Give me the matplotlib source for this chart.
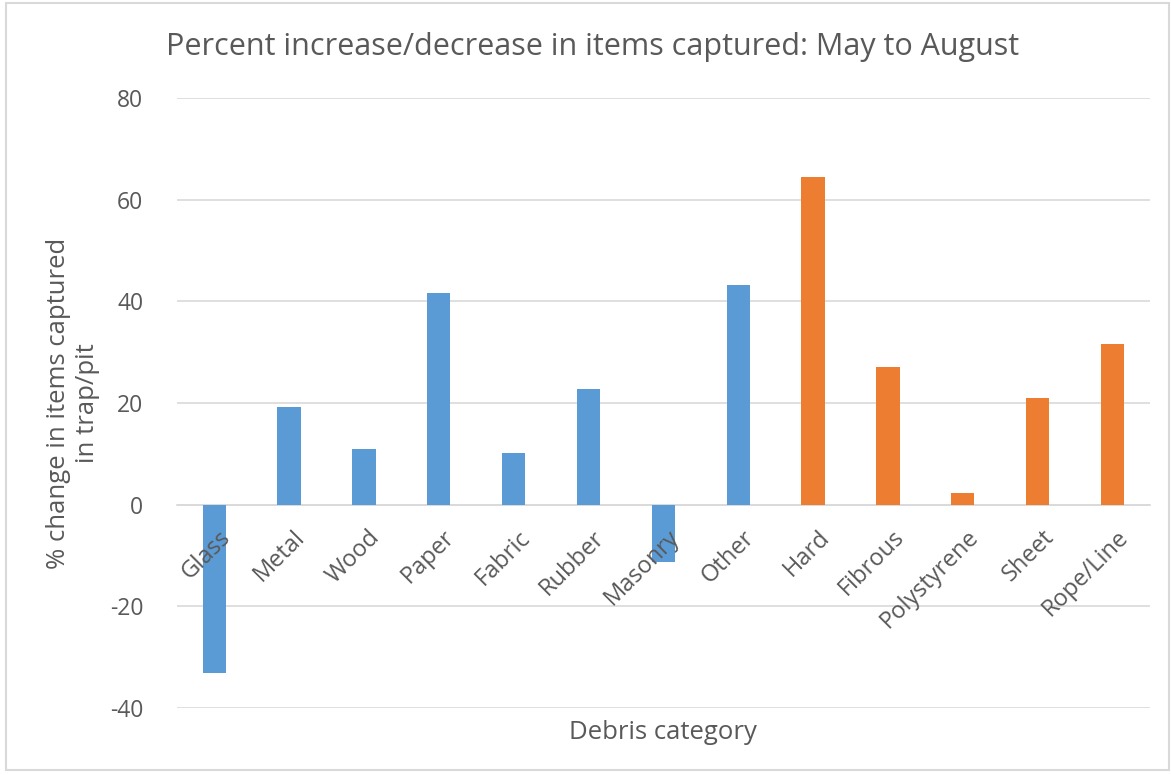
import matplotlib.pyplot as plt
from matplotlib.patches import Rectangle
from matplotlib.transforms import offset_copy

# data
categories = ['Glass', 'Metal', 'Wood', 'Paper', 'Fabric', 'Rubber', 'Masonry', 'Other',
              'Hard', 'Fibrous', 'Polystyrene', 'Sheet', 'Rope/Line']
pct_change = [-33.2, 19.2, 11.0, 41.6, 10.1, 22.8, -11.2, 43.2,
              64.5, 27.0, 2.3, 20.9, 31.6]
group = ['other', 'other', 'other', 'other', 'other', 'other', 'other', 'other',
         'plastic', 'plastic', 'plastic', 'plastic', 'plastic']
y_ticks = [-40, -20, 0, 20, 40, 60, 80]

group_colors = {'other': '#5B9BD5', 'plastic': '#ED7D31'}
txt_color = '#595959'
grid_color = '#D9D9D9'

plt.rcParams['font.family'] = ['Open Sans', 'DejaVu Sans']

fig = plt.figure(figsize=(11.71, 7.75), dpi=100)
ax = fig.add_axes([0.151, 0.0865, 0.831, 0.787])

x = list(range(len(categories)))
colors = [group_colors[g] for g in group]
ax.bar(x, pct_change, width=0.31, color=colors, zorder=3)

ax.set_xlim(-0.5, len(categories) - 0.5)
ax.set_ylim(-40, 80)
ax.set_yticks(y_ticks)
ax.set_yticklabels([str(v) for v in y_ticks], fontsize=16.5, color=txt_color)
ax.yaxis.grid(True, color=grid_color, linewidth=1.2, zorder=0)
ax.tick_params(axis='y', length=0, pad=24)

# category axis crosses at zero, like the spreadsheet chart
ax.spines['bottom'].set_position(('data', 0))
ax.spines['bottom'].set_color(grid_color)
ax.spines['bottom'].set_linewidth(1.2)
for s in ['top', 'right', 'left']:
    ax.spines[s].set_visible(False)
ax.set_xticks([])

# category names sit on top of the bars, so draw them as texts
lab_trans = offset_copy(ax.transData, fig=fig, x=3, y=-15, units='points')
for xi, name in zip(x, categories):
    ax.text(xi, 0, name, transform=lab_trans, fontsize=17, color=txt_color, rotation=45,
            ha='right', va='top', rotation_mode='anchor', zorder=5)

ax.set_ylabel('% change in items captured\nin trap/pit', fontsize=18.5, color=txt_color,
              labelpad=7, linespacing=1.2)
fig.text(0.566, 0.055, 'Debris category', fontsize=18.5, color=txt_color, ha='center', va='center')
fig.text(0.506, 0.94, 'Percent increase/decrease in items captured: May to August',
         fontsize=22, color=txt_color, ha='center', va='center')

# light frame around the chart area
fig.patches.append(Rectangle((0.005, 0.006), 0.993, 0.99, transform=fig.transFigure,
                             fill=False, edgecolor=grid_color, linewidth=1.5))

fig.savefig('out.png', dpi=100)
